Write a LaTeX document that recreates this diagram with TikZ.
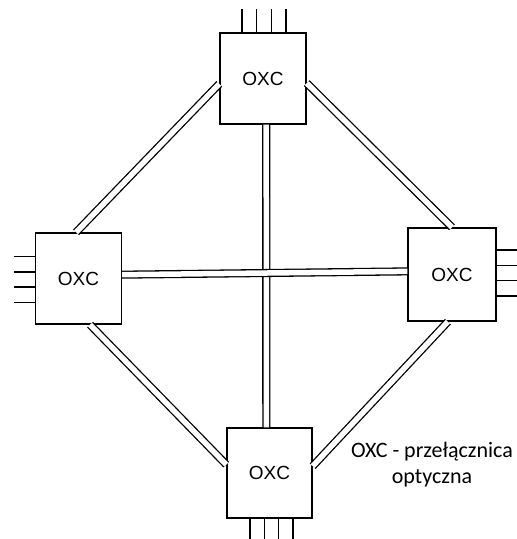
\documentclass[tikz,border=0pt]{standalone}
\usepackage{fontspec}
\setmainfont{Liberation Sans}
\newfontfamily\labelfont{Carlito}
\usetikzlibrary{positioning}

\begin{document}
\begin{tikzpicture}[x=1pt, y=-1pt, line width=1.4pt,
    oxc/.style={
    draw,
    rectangle,
    inner sep=0pt,
    minimum width=86pt,
    minimum height=91pt,
    font=\fontsize{19}{22}\selectfont},
    fibre/.style={draw, double, double distance=5.5pt, line width=1.3pt},
    stub/.style={draw, line width=1.4pt}]
    \useasboundingbox (0,0) rectangle (517,539);

    \node [oxc] (Top) at (263,78.5) {OXC};
    \node [oxc] (Left) at (78.5,278.5) {OXC};
    \node [oxc, minimum width=88pt, minimum height=93pt] (Right) at (452,274.5) {OXC};
    \node [oxc, minimum width=85pt, minimum height=90pt] (Bottom) at (269.5,473) {OXC};

    \draw[fibre] (Top.187) -- (Left.93);
    \draw[fibre] (Top.354) -- (Right.north);
    \draw[fibre] (Left.284) -- (Bottom.169);
    \draw[fibre] (Right.265) -- (Bottom.9);
    \draw[fibre] (Top.274) -- (Bottom.94);
    \draw[fibre] (Left.5) -- (Right.176);

    % outer fibre ends
    \foreach \d in {-1.5,-0.5,0.5,1.5} {
        \draw[stub] ([xshift=\d*14.6pt+1pt]Top.north) -- ++(0,-23);
        \draw[stub] ([xshift=\d*14.3pt+2pt]Bottom.south) -- ++(0,21);
        \draw[stub] ([yshift=-\d*15.3pt-1pt]Left.west) -- ++(-21,0);
        \draw[stub] ([yshift=-\d*15.3pt+1.5pt]Right.east) -- ++(21,0);
    }

    \node [font=\labelfont\fontsize{22}{26}\selectfont, align=center] (Legend) at (432,465) {OXC - przełącznica\\optyczna};
\end{tikzpicture}
\end{document}
